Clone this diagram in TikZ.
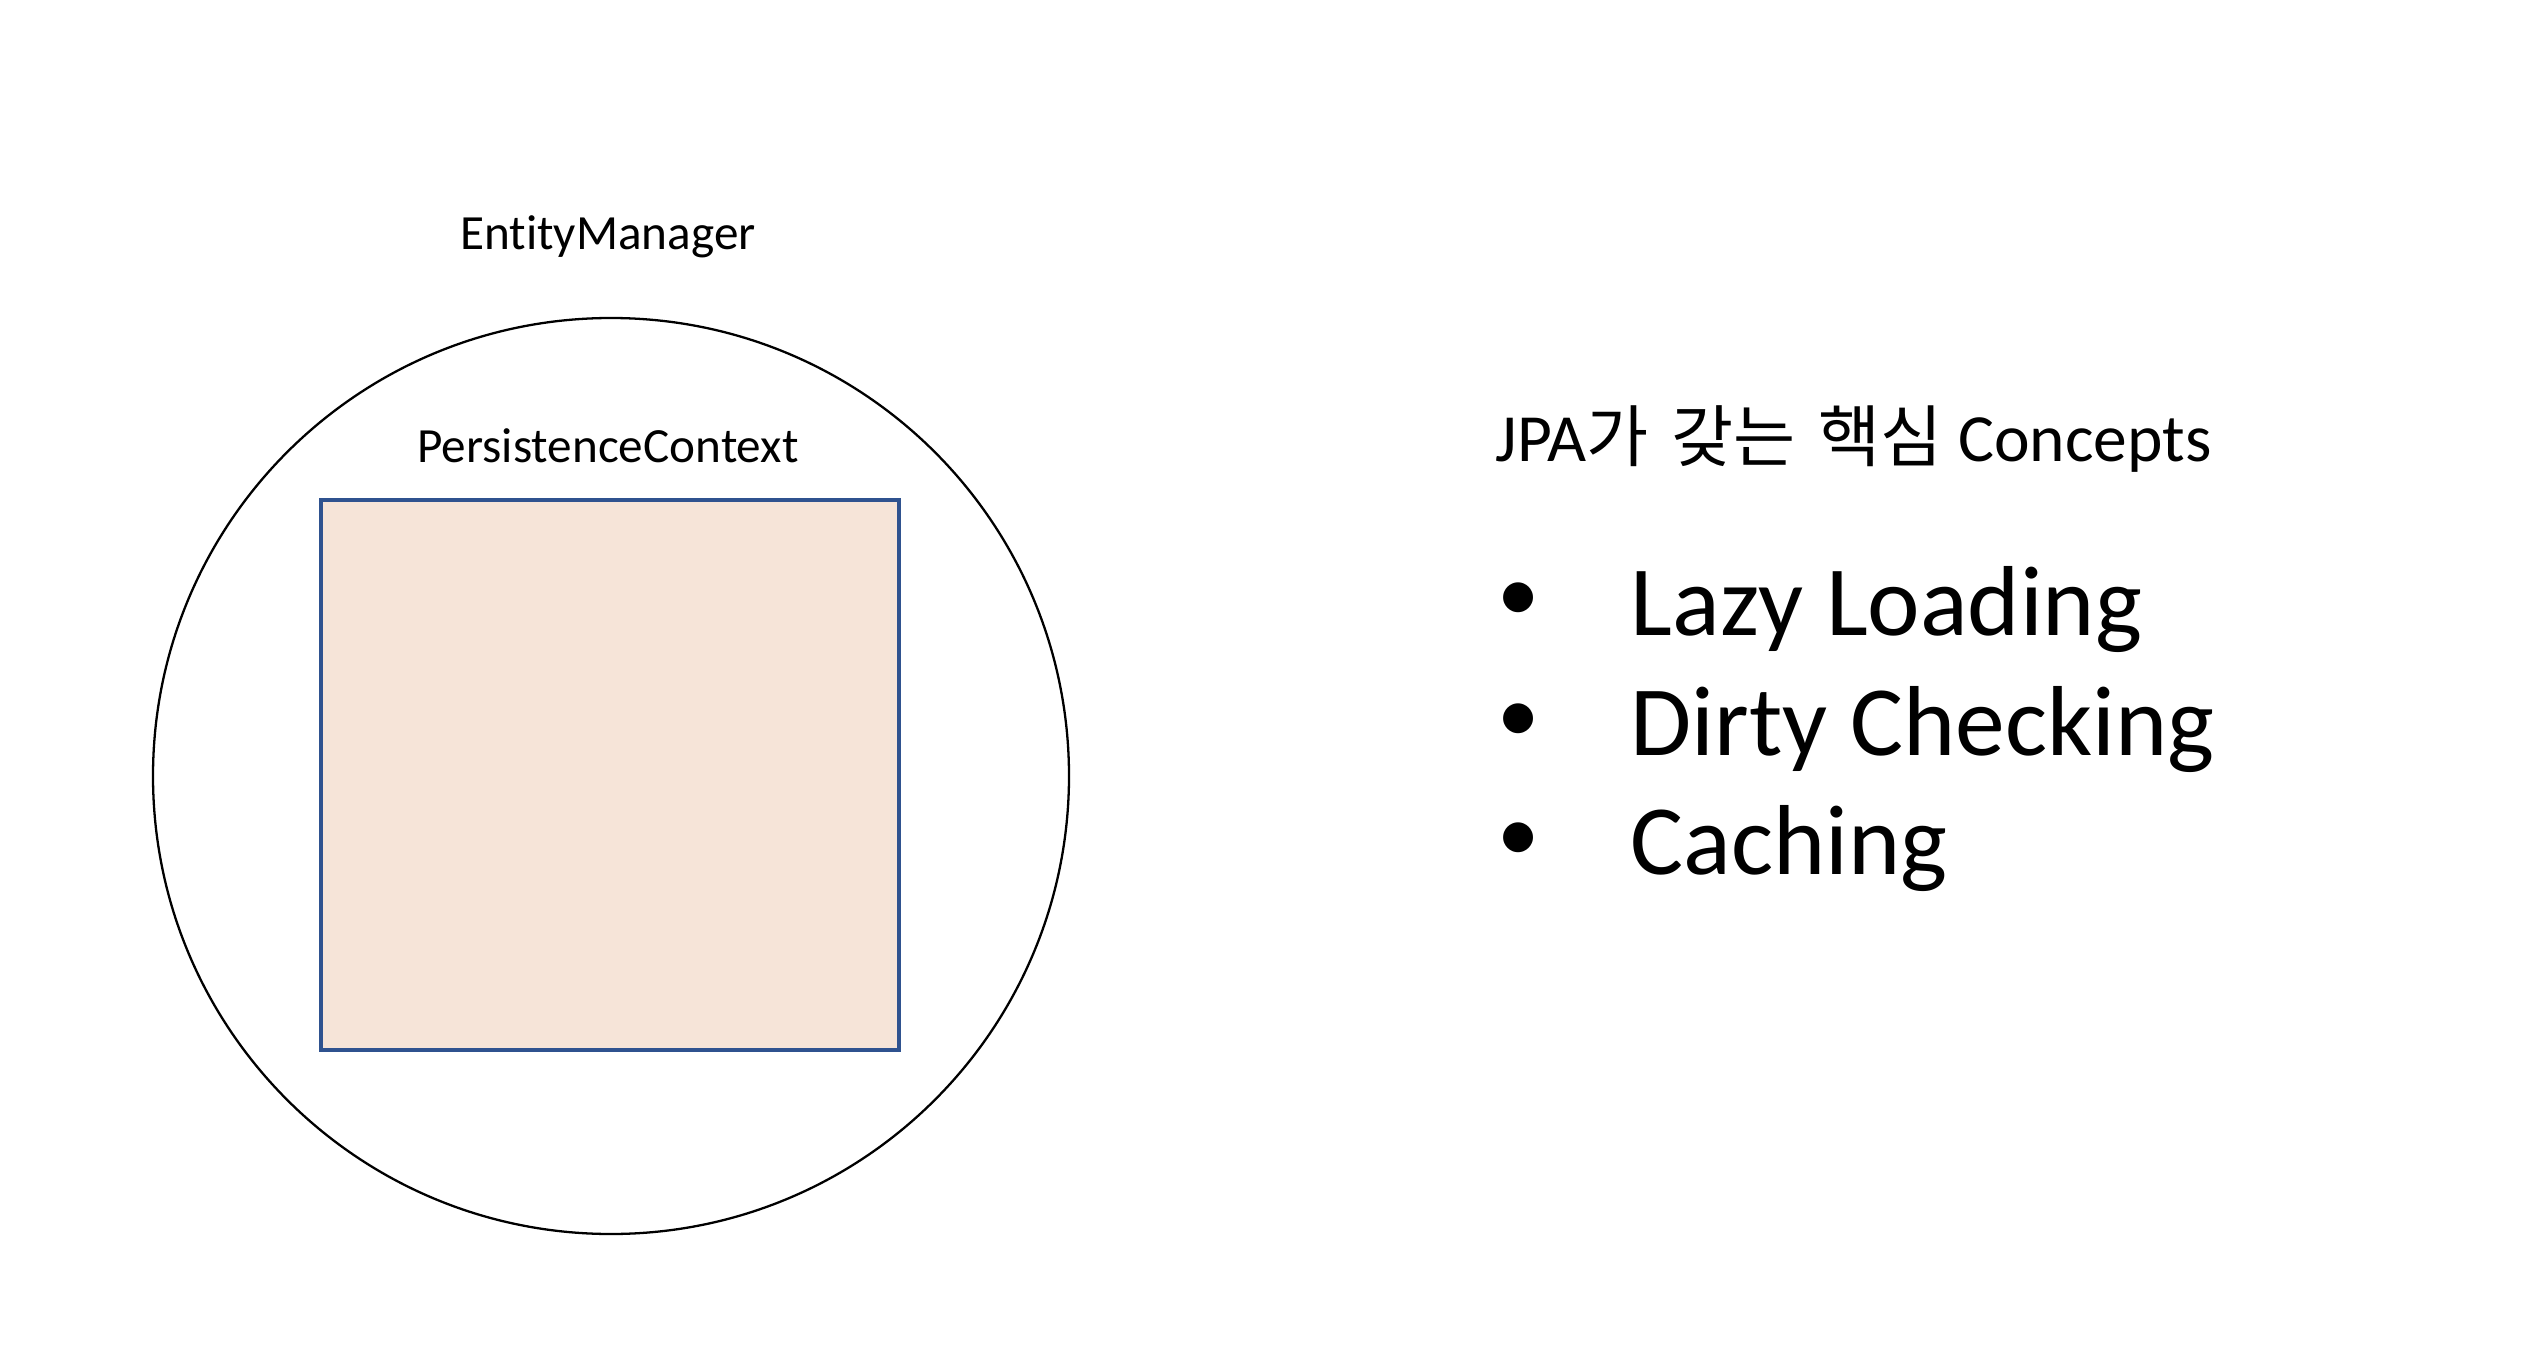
\documentclass[tikz,border=0pt]{standalone}
\usepackage{fontspec}
\setmainfont{Carlito}[Ligatures=NoCommon]
\newfontfamily\kofont{Noto Sans CJK KR}
\usetikzlibrary{positioning}
\definecolor{emLine}{HTML}{000000}
\definecolor{pcFill}{HTML}{F6E4D8}
\definecolor{pcLine}{HTML}{2F528F}
\tikzset{
  labelS/.style={font=\fontsize{14}{17}\selectfont, anchor=base, inner sep=0pt},
  labelT/.style={font=\fontsize{19.2}{23}\selectfont, anchor=base west, inner sep=0pt},
  itemL/.style={font=\fontsize{28.3}{34}\selectfont, anchor=base west, inner sep=0pt},
  emCircle/.style={draw=emLine, line width=0.65pt},
  pcBox/.style={draw=pcLine, fill=pcFill, line width=0.9pt},
}

\begin{document}
\begin{tikzpicture}
    \useasboundingbox (0,0) rectangle (25.34,13.70);
    \node[emCircle, circle, minimum size=9.16cm, inner sep=0pt] (em) at (6.11,5.94) {};
    \node[pcBox, rectangle, minimum width=5.78cm, minimum height=5.50cm, inner sep=0pt] (pc) at (6.10,5.95) {};
    \node[labelS] (emLabel) at (6.08,11.20) {EntityManager};
    \node[labelS] (pcLabel) at (6.08,9.08) {PersistenceContext};
    \node[labelT] (title) at (14.95,9.09) {JPA{\kofont 가\hspace{0.12em} 갖는\hspace{0.12em} 핵심} Concepts};
    \foreach \txt/\y [count=\i] in {Lazy Loading/7.35, Dirty Checking/6.15, Caching/4.96} {
      \node[itemL, anchor=base, scale=0.85] (dot\i) at (15.19,\y+0.13) {\textbullet};
      \node[itemL] (item\i) at (16.30,\y) {\txt};
    }
  \end{tikzpicture}
\end{document}
